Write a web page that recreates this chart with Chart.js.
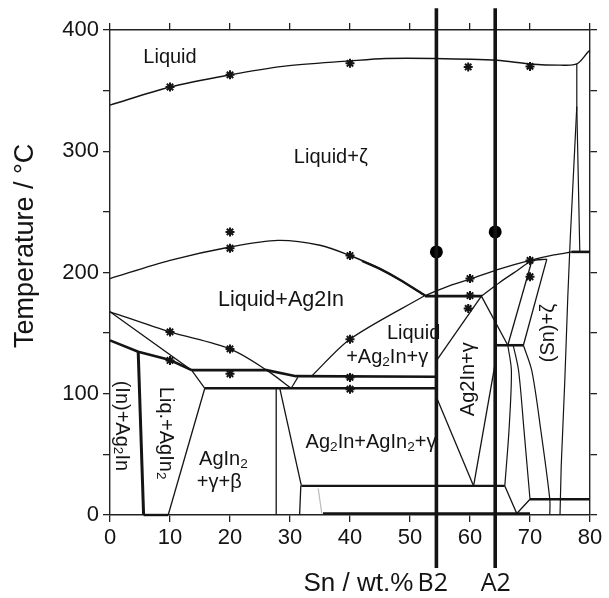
<!DOCTYPE html>
<html>
<head>
<meta charset="utf-8">
<script src="https://cdn.jsdelivr.net/npm/chart.js@4.4.1/dist/chart.umd.min.js"></script>
<style>
  body { margin: 0; background: #fff; }
</style>
</head>
<body>
<canvas id="phaseChart" width="609" height="598"></canvas>
<script>
// Sn-In-Ag section, points as [Sn wt.%, T in C]
const liquidus = [[0,338],[10,353],[20,363],[28.8,370],[40,374.5],[46,376.5],[54,376.5],[64.5,375],[70,372],[75,371],[77.8,372],[79.7,382],[80,383]];
const zetaLeft = [[77.8,372],[77.8,337],[76.7,227],[76.3,180],[75.8,111],[75.2,40],[75,0]];
const zetaRight = [[77.8,337],[78.3,217]];
const tie217 = [[76.9,217],[80,217]];
const ag2inDome = [[0,195],[10,210],[20,221],[28,226.5],[35,222.5],[40,214],[45,203],[48.3,194],[52.5,181]];
const ag2inDomeEnd = [[42,209.5],[45,203],[48.3,194],[52.5,181]];
const inLiquidus = [[0,144],[4.7,134.6],[10,127.8],[13.6,119.5]];
const agin2Upper = [[0,167.6],[10,151],[20,137],[26.1,119.5],[30.2,104.5]];
const agin2Lower = [[0,167.6],[13.6,119.5],[15.8,104.5]];
const tie119 = [[13.6,119.5],[26.1,119.5],[31,114.5],[54.2,114]];
const tie105 = [[15.8,104.5],[54.2,104.5]];
const smallTri = [[30.2,104.5],[31.3,113.5]];
const gammaLiquidus = [[33.6,114.5],[40,145],[52.5,181]];
const tie180 = [[52.5,180.5],[62,180.5]];
const zetaSolidus = [[52.5,181],[56,188],[60,194.5],[65,203],[70,210],[74,214.5],[77,217]];
const gammaTop = [[61.9,180.5],[65,192],[68,202],[70.3,209.5],[72.8,211]];
const crossA = [[61.9,180.5],[66.3,140]];
const crossB = [[70.3,209.5],[66.3,140]];
const crossC = [[72.8,211],[68.9,140]];
const tie140 = [[64.3,140],[68.9,140]];
const lowerA = [[66.3,140],[66.9,119],[66.5,70],[65.8,24]];
const lowerB = [[67.2,140],[68.1,119],[69,70],[70,13]];
const snZetaLeft = [[68.9,140],[70.3,119],[71.8,70],[73.3,13],[73.3,0]];
const lensLeftUpper = [[61.9,180.5],[54.5,128]];
const lensLeftLower = [[54.5,96],[60.6,24]];
const lensRight = [[60.6,24],[64.3,128]];
const tie24 = [[31.9,24],[65.8,24]];
const bottomV = [[65.8,24],[67.8,1.2],[70,13]];
const tie13 = [[70,13],[80,13]];
const base1 = [[35.5,1.2],[70,1.2]];
const agin2Left = [[15.8,104.5],[9.7,0]];
const inVert = [[4.7,134.6],[5.6,0]];
const baseLeft = [[5.6,0],[9.7,0]];
const betaVert = [[27.7,104.5],[27.7,0]];
const betaDiag = [[28.3,104.5],[31.9,24]];
const gammaVert = [[31.8,24],[31.6,0]];
const greyVert = [[34.7,22],[35.3,1.2]];
const sectionB2 = [[54.4,-43.7],[54.4,418]];
const sectionA2 = [[64.2,-43.7],[64.2,418]];
const sectionDots = [[54.4,217],[64.2,233.5]];
const measured = [[10,353],[20,363],[40,372.5],[59.7,369.5],[70,370],[20,233.5],[20,220],[40,214],[10,151],[20,137],[10,127.5],[20,116.5],[40,145],[40,113.5],[40,103.8],[60,195],[60,181],[59.7,170.4],[70,210],[70,196.5]];

const xTicks = [0,10,20,30,40,50,60,70,80];
const yTicks = [0,100,200,300,400];

const regionLabels = [
  { text: 'Liquid', x: 10, y: 377, rot: 0 },
  { text: 'Liquid+ζ', x: 36.8, y: 295, rot: 0 },
  { text: 'Liquid+Ag2In', x: 28.5, y: 177, rot: 0, size: 21.5 },
  { text: 'Liquid', x: 50.6, y: 150, rot: 0 },
  { text: '+Ag₂In+γ', x: 46.2, y: 129.5, rot: 0 },
  { text: 'Ag₂In+AgIn₂+γ', x: 43.5, y: 59.5, rot: 0 },
  { text: 'AgIn₂', x: 18.9, y: 45.5, rot: 0 },
  { text: '+γ+β', x: 18.2, y: 27, rot: 0 },
  { text: '(In)+Ag₂In', x: 2, y: 73.5, rot: 90 },
  { text: 'Liq.+AgIn₂', x: 9.2, y: 67.5, rot: 90 },
  { text: 'Ag2In+γ', x: 59.7, y: 112, rot: -90 },
  { text: '(Sn)+ζ', x: 73, y: 150, rot: -90 }
];

const xy = pts => pts.map(([x, y]) => ({ x, y }));
const INK = '#141414';

const line = (pts, width, extra) => Object.assign({
  data: xy(pts),
  showLine: true,
  borderColor: INK,
  borderWidth: width,
  pointRadius: 0,
  tension: 0,
  clip: false
}, extra || {});

const curved = { tension: 0.3 };

const datasets = [
  line(liquidus, 1.4, curved),
  line(zetaLeft, 1.2),
  line(zetaRight, 1.2),
  line(tie217, 2.6),
  line(ag2inDome, 1.4, curved),
  line(ag2inDomeEnd, 2.4, curved),
  line(inLiquidus, 2.6),
  line(agin2Upper, 1.3, curved),
  line(agin2Lower, 1.3),
  line(tie119, 2.6),
  line(tie105, 2.6),
  line(smallTri, 1.2),
  line(gammaLiquidus, 1.3, curved),
  line(tie180, 2.8),
  line(zetaSolidus, 1.3, curved),
  line(gammaTop, 1.3, curved),
  line(crossA, 1.3),
  line(crossB, 1.3),
  line(crossC, 1.3),
  line(tie140, 2.6),
  line(lowerA, 1.2, curved),
  line(lowerB, 1.2, curved),
  line(snZetaLeft, 1.2, curved),
  line(lensLeftUpper, 1.3),
  line(lensLeftLower, 1.3),
  line(lensRight, 1.3),
  line(tie24, 2.2),
  line(bottomV, 1.3),
  line(tie13, 2.4),
  line(base1, 2.6),
  line(agin2Left, 1.3),
  line(inVert, 3),
  line(baseLeft, 2.4),
  line(betaVert, 1.3),
  line(betaDiag, 1.3),
  line(gammaVert, 1.3),
  line(greyVert, 1.2, { borderColor: '#bbb' }),
  line(sectionB2, 3.6),
  line(sectionA2, 3.6),
  {
    data: xy(measured),
    pointStyle: 'star',
    pointRadius: 4.5,
    borderColor: INK,
    backgroundColor: INK,
    borderWidth: 2
  },
  {
    data: xy(sectionDots),
    pointStyle: 'circle',
    pointRadius: 6.5,
    borderColor: '#000',
    backgroundColor: '#000',
    borderWidth: 0,
    clip: false
  }
];

// draws region names (with small subscript 2) and axis titles
function drawRich(ctx, text, size) {
  const font = s => s + 'px "Liberation Sans", Arial, sans-serif';
  const parts = [];
  let total = 0;
  for (const ch of text) {
    const sub = ch === '₂';
    ctx.font = font(sub ? size * 0.68 : size);
    const w = ctx.measureText(sub ? '2' : ch).width;
    parts.push({ ch: sub ? '2' : ch, sub, w });
    total += w;
  }
  let cx = -total / 2;
  ctx.textAlign = 'left';
  ctx.textBaseline = 'middle';
  parts.forEach(p => {
    ctx.font = font(p.sub ? size * 0.68 : size);
    ctx.fillText(p.ch, cx, p.sub ? size * 0.22 : 0);
    cx += p.w;
  });
}

const labelPlugin = {
  id: 'phaseLabels',
  beforeDatasetsDraw(chart) {
    const { ctx, scales: { x, y } } = chart;
    ctx.save();
    ctx.fillStyle = INK;
    regionLabels.forEach(l => {
      ctx.save();
      ctx.translate(x.getPixelForValue(l.x), y.getPixelForValue(l.y));
      ctx.rotate(l.rot * Math.PI / 180);
      drawRich(ctx, l.text, l.size || 20);
      ctx.restore();
    });
    ctx.restore();
  },
  afterDraw(chart) {
    const { ctx, scales: { x, y } } = chart;
    ctx.save();
    ctx.fillStyle = INK;
    ctx.textBaseline = 'alphabetic';
    ctx.textAlign = 'center';
    // y title
    ctx.save();
    ctx.translate(33, y.getPixelForValue(222));
    ctx.rotate(-Math.PI / 2);
    ctx.font = '27px "Liberation Sans", Arial, sans-serif';
    ctx.fillText('Temperature / °C', 0, 0);
    ctx.restore();
    // x title and section names
    const base = y.getPixelForValue(-63);
    ctx.font = '26px "Liberation Sans", Arial, sans-serif';
    ctx.fillText('Sn / wt.%', x.getPixelForValue(41.4), base);
    ctx.font = '25px "Open Sans", "Noto Sans", sans-serif';
    ctx.fillText('B2', x.getPixelForValue(53.8), base);
    ctx.fillText('A2', x.getPixelForValue(64.3), base);
    ctx.restore();
  }
};

const tickFont = { family: '"Liberation Sans", Arial, sans-serif', size: 22 };
const axisBorder = { display: true, color: '#222', width: 1.4 };
const tickGrid = { drawOnChartArea: false, drawTicks: true, tickLength: 7, color: '#222', lineWidth: 1.3 };

new Chart(document.getElementById('phaseChart'), {
  type: 'scatter',
  data: { datasets },
  options: {
    responsive: false,
    devicePixelRatio: 1,
    animation: false,
    layout: { padding: 0 },
    plugins: { legend: { display: false }, tooltip: { enabled: false } },
    scales: {
      x: {
        type: 'linear', position: 'bottom', min: 0, max: 80,
        ticks: { stepSize: 10, font: tickFont, color: INK, padding: 3,
                 callback: v => xTicks.includes(v) ? v : '' },
        grid: tickGrid, border: axisBorder,
        afterFit: s => { s.height = 83; }
      },
      xTop: {
        type: 'linear', position: 'top', min: 0, max: 80,
        ticks: { stepSize: 10, display: false },
        grid: tickGrid, border: axisBorder,
        afterFit: s => { s.height = 30; }
      },
      y: {
        type: 'linear', position: 'left', min: 0, max: 400,
        ticks: { stepSize: 50, font: tickFont, color: INK, padding: 4,
                 callback: v => yTicks.includes(v) ? v : '' },
        grid: tickGrid, border: axisBorder,
        afterFit: s => { s.width = 110; }
      },
      yRight: {
        type: 'linear', position: 'right', min: 0, max: 400,
        ticks: { stepSize: 50, display: false },
        grid: tickGrid, border: axisBorder,
        afterFit: s => { s.width = 19; }
      }
    }
  },
  plugins: [labelPlugin]
});
</script>
</body>
</html>
